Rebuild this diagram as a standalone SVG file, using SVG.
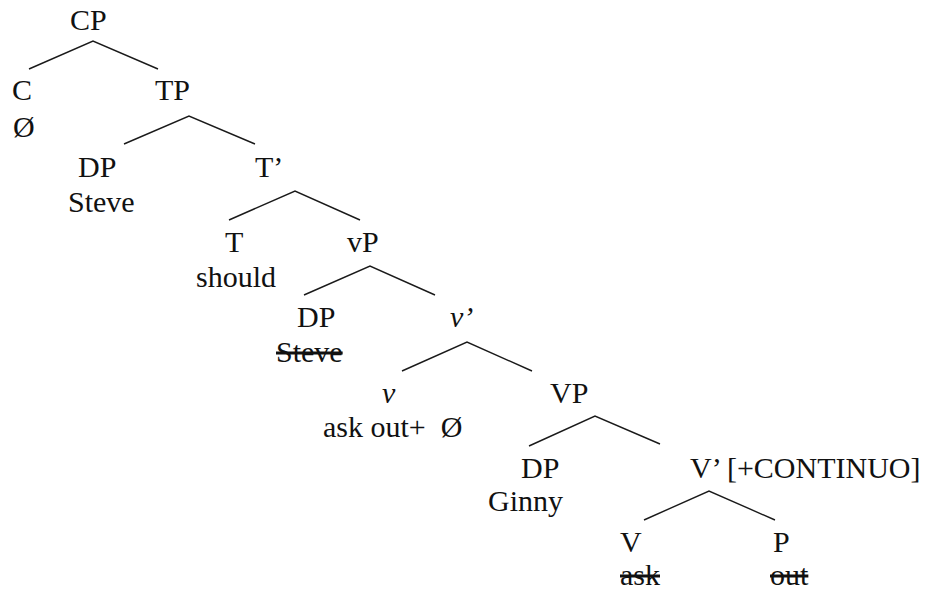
<svg xmlns="http://www.w3.org/2000/svg" width="929" height="590" viewBox="0 0 929 590">
  <style>
    text { font-family: "Liberation Serif", "Times New Roman", serif; font-size: 30px; fill: #111; }
    .it { font-style: italic; }
    .del { text-decoration: line-through; }
    .branch { fill: none; stroke: #1a1a1a; stroke-width: 1.4; stroke-linejoin: miter; }
  </style>
  <rect width="929" height="590" fill="#ffffff"/>

  <!-- tree branches: each path joins a mother node to its two daughters -->
  <g id="connectors">
    <path class="branch" d="M29 69 L93 41 L158 69"/>
    <path class="branch" d="M124 144 L189 116 L255 144"/>
    <path class="branch" d="M229 220 L295 191 L360 220"/>
    <path class="branch" d="M304 295 L370 266 L435 295"/>
    <path class="branch" d="M402 371 L467 342 L532 371"/>
    <path class="branch" d="M529 446 L595 416 L660 444"/>
    <path class="branch" d="M644 520 L709 491 L775 520"/>
  </g>

  <g id="node-CP"><text x="70" y="30">CP</text></g>
  <g id="node-C"><text x="12" y="100">C</text><text x="13" y="137">Ø</text></g>
  <g id="node-TP"><text x="155" y="100">TP</text></g>
  <g id="node-DP-subject"><text x="78" y="177">DP</text><text x="68" y="212">Steve</text></g>
  <g id="node-Tbar"><text x="255" y="177">T’</text></g>
  <g id="node-T"><text x="225" y="252">T</text><text x="196" y="287">should</text></g>
  <g id="node-vP"><text x="347" y="252">vP</text></g>
  <g id="node-DP-trace"><text x="297" y="327">DP</text><text class="del" x="276" y="362">Steve</text></g>
  <g id="node-vbar"><text class="it" x="450" y="327">v’</text></g>
  <g id="node-v"><text class="it" x="382" y="403">v</text><text x="323" y="437" xml:space="preserve">ask out+  Ø</text></g>
  <g id="node-VP"><text x="550" y="403">VP</text></g>
  <g id="node-DP-object"><text x="521" y="478">DP</text><text x="488" y="511">Ginny</text></g>
  <g id="node-Vbar"><text x="690" y="478">V’ [+CONTINUO]</text></g>
  <g id="node-V"><text x="620" y="552">V</text><text class="del" x="620" y="585">ask</text></g>
  <g id="node-P"><text x="773" y="552">P</text><text class="del" x="770" y="585">out</text></g>
</svg>
